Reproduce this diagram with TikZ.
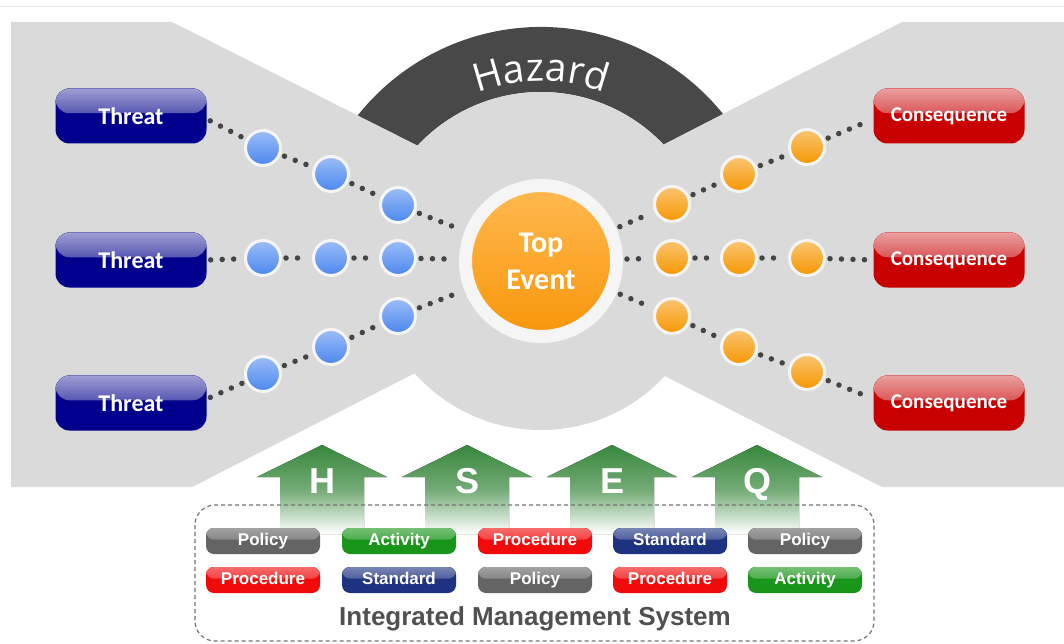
\documentclass[tikz,border=0pt]{standalone}
\usepackage{fontspec}
\setmainfont{Liberation Sans}
\newfontfamily\carlito{Carlito}
\newfontfamily\opensans{Open Sans}
\usetikzlibrary{calc,decorations.text}
\definecolor{bgray}{RGB}{218,218,218}
\definecolor{hazgray}{RGB}{72,72,72}
\definecolor{navy}{RGB}{0,0,140}
\definecolor{cred}{RGB}{200,0,0}
\definecolor{ballblue}{RGB}{75,135,240}
\definecolor{ballorange}{RGB}{246,150,0}
\definecolor{teorange}{RGB}{248,150,10}
\definecolor{ringc}{RGB}{245,245,245}
\definecolor{dotc}{RGB}{68,68,68}
\definecolor{arrgreen}{RGB}{55,135,60}
\definecolor{bgr}{RGB}{100,100,100}
\definecolor{bgn}{RGB}{25,150,25}
\definecolor{brd}{RGB}{240,10,10}
\definecolor{bnv}{RGB}{30,50,130}
\definecolor{imsgray}{RGB}{80,80,80}
\tikzset{
  gloss/.style 2 args={path picture={\fill[top color=white!#2!#1, bottom color=#1]
     (path picture bounding box.north west) rectangle
     ($(path picture bounding box.north east)!0.45!(path picture bounding box.south east)$);}},
  bigbox/.style={rounded corners=14pt, minimum width=151pt, minimum height=55pt, inner sep=0pt,
     fill=#1, gloss={#1}{62}, text=white},
  threatbox/.style={bigbox=navy, font=\carlito\bfseries\fontsize{24}{28}\selectfont},
  consbox/.style={bigbox=cred, font=\carlito\bfseries\fontsize{21}{25}\selectfont},
  ball/.style={circle, minimum size=35pt, inner sep=0pt, draw=ringc, line width=3pt,
     top color=#1!55!white, bottom color=#1},
  dots/.style={draw=dotc, line width=5.5pt, line cap=round, dash pattern=on 0pt off 11.5pt,
     shorten <=4pt, shorten >=4pt},
  btn/.style={rounded corners=8pt, minimum width=114pt, minimum height=26pt, inner sep=0pt,
     text height=12.5pt, text depth=3.5pt,
     fill=#1, gloss={#1}{40}, text=white, font=\bfseries\fontsize{17}{20}\selectfont},
  hseq/.style={text=white, font=\bfseries\fontsize{36}{40}\selectfont, anchor=base, inner sep=0pt},
  uparrow/.style={top color=arrgreen, bottom color=white, middle color=arrgreen!70!white}
}
\begin{document}
\begin{tikzpicture}[x=1pt,y=-1pt]
\useasboundingbox (0,0) rectangle (1064,644);
\fill[white] (0,0) rectangle (1064,644);
\draw[black!8, line width=1pt] (0,7) -- (1064,7);
\coordinate (tec) at (541,261);
% hazard band
\fill[hazgray] ([shift={(-160:234)}]tec) arc[start angle=-160, end angle=-20, radius=234]
   -- ([shift={(-20:169)}]tec) arc[start angle=-20, end angle=-160, radius=169] -- cycle;
% bow tie background
\fill[bgray] (11,22) -- (172,22) -- (470,172) -- (612,171) -- (902,22) -- (1064,22)
   -- (1064,487) -- (882,487) -- (612,349) -- (470,345) -- (192,487) -- (11,487) -- cycle;
\fill[bgray] (tec) circle[radius=169];
% hazard text
\path[decorate, decoration={text along path, text align=center,
   text={|\opensans\fontsize{39}{39}\selectfont\color{white}|Hazard}}]
   ([shift={(-125:180)}]tec) arc[start angle=-125, end angle=-55, radius=180];
% top event
\node[circle, minimum size=151pt, inner sep=0pt, line width=13pt, draw=ringc,
   top color={rgb,255:red,255;green,185;blue,80}, bottom color=teorange,
   text=white, align=center, font=\carlito\bfseries\fontsize{30}{37}\selectfont] (te) at (tec) {Top\\Event};
% threats and consequences
\node[threatbox] (t1) at (131,116) {Threat};
\node[threatbox] (t2) at (131,260) {Threat};
\node[threatbox] (t3) at (131,403) {Threat};
\node[consbox] (c1) at (949,116) {Consequence};
\node[consbox] (c2) at (949,260) {Consequence};
\node[consbox] (c3) at (949,403) {Consequence};
% barrier balls
\node[ball=ballblue] (b11) at (263,148) {};
\node[ball=ballblue] (b12) at (331,174) {};
\node[ball=ballblue] (b13) at (398,205) {};
\node[ball=ballblue] (b21) at (263,258) {};
\node[ball=ballblue] (b22) at (331,258) {};
\node[ball=ballblue] (b23) at (398,258) {};
\node[ball=ballblue] (b31) at (263,374) {};
\node[ball=ballblue] (b32) at (331,347) {};
\node[ball=ballblue] (b33) at (398,316) {};
\node[ball=ballorange] (o11) at (807,147) {};
\node[ball=ballorange] (o12) at (739,174) {};
\node[ball=ballorange] (o13) at (672,204) {};
\node[ball=ballorange] (o21) at (807,258) {};
\node[ball=ballorange] (o22) at (739,258) {};
\node[ball=ballorange] (o23) at (672,258) {};
\node[ball=ballorange] (o31) at (807,372) {};
\node[ball=ballorange] (o32) at (739,347) {};
\node[ball=ballorange] (o33) at (672,316) {};
% dotted connectors
\draw[dots] ([yshift=-3pt]t1.east) -- (b11);
\draw[dots] (b11) -- (b12);
\draw[dots] (b12) -- (b13);
\draw[dots] (b13) -- (te);
\draw[dots] (t2.east) -- (b21);
\draw[dots] (b21) -- (b22);
\draw[dots] (b22) -- (b23);
\draw[dots] (b23) -- (te);
\draw[dots] ([yshift=4pt]t3.east) -- (b31);
\draw[dots] (b31) -- (b32);
\draw[dots] (b32) -- (b33);
\draw[dots] (b33) -- (te);
\draw[dots] (te) -- (o13);
\draw[dots] (o13) -- (o12);
\draw[dots] (o12) -- (o11);
\draw[dots] (o11) -- ([yshift=-3pt]c1.west);
\draw[dots] (te) -- (o23);
\draw[dots] (o23) -- (o22);
\draw[dots] (o22) -- (o21);
\draw[dots] (o21) -- (c2.west);
\draw[dots] (te) -- (o33);
\draw[dots] (o33) -- (o32);
\draw[dots] (o32) -- (o31);
\draw[dots] (o31) -- ([yshift=4pt]c3.west);
% HSEQ arrows
\foreach \cx/\lt/\nm in {322/H/ah,467/S/as,612/E/ae,757/Q/aq}{
  \fill[uparrow] (\cx-42,534) -- (\cx-42,477) -- (\cx-65,477) -- (\cx,445) -- (\cx+65,477)
     -- (\cx+42,477) -- (\cx+42,534) -- cycle;
  \node[hseq] (\nm) at (\cx,493) {\lt};
}
% IMS frame
\draw[black!55, line width=1.2pt, dash pattern=on 4pt off 3pt, rounded corners=20pt]
   (195,505) rectangle (874,641);
% buttons
\node[btn=bgr] (p11) at (263,541) {Policy};
\node[btn=bgn] (p12) at (399,541) {Activity};
\node[btn=brd] (p13) at (535,541) {Procedure};
\node[btn=bnv] (p14) at (670,541) {Standard};
\node[btn=bgr] (p15) at (805,541) {Policy};
\node[btn=brd] (p21) at (263,580) {Procedure};
\node[btn=bnv] (p22) at (399,580) {Standard};
\node[btn=bgr] (p23) at (535,580) {Policy};
\node[btn=brd] (p24) at (670,580) {Procedure};
\node[btn=bgn] (p25) at (805,580) {Activity};
\node[text=imsgray, font=\bfseries\fontsize{26}{30}\selectfont] (ims) at (535,619) {Integrated Management System};
\end{tikzpicture}
\end{document}
